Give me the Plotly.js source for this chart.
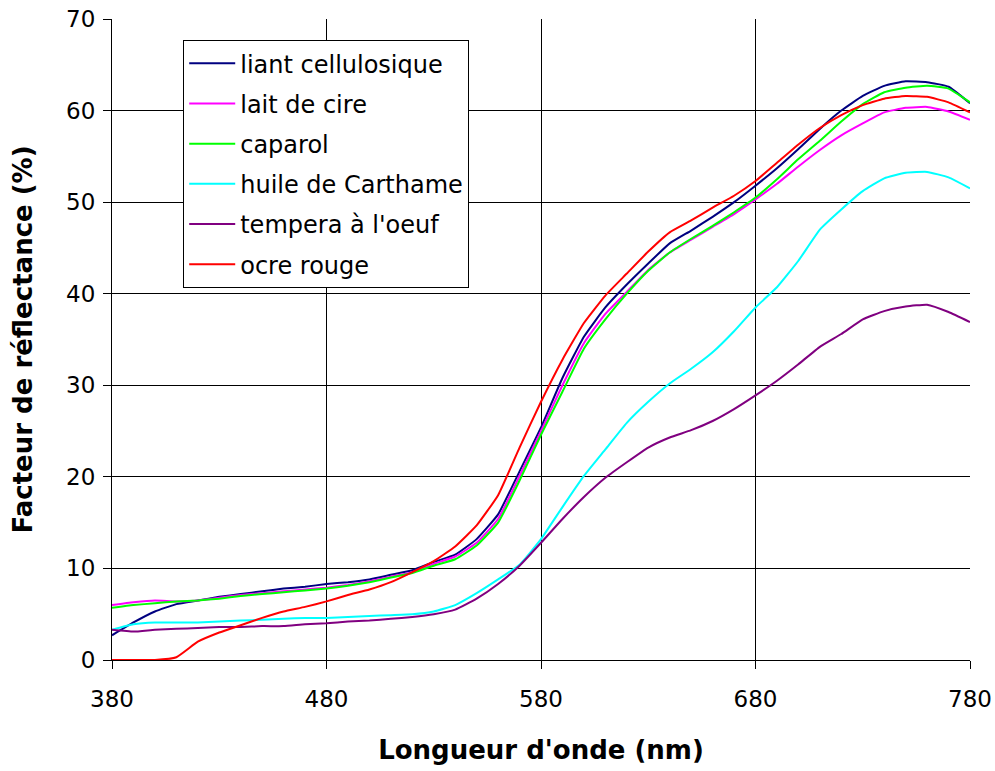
<!DOCTYPE html>
<html>
<head>
<meta charset="utf-8">
<script src="https://cdn.plot.ly/plotly-3.0.1.min.js"></script>
<style>html,body{margin:0;padding:0;background:#fff;}#chart{width:995px;height:771px;}</style>
</head>
<body>
<div id="chart"></div>
<script>
const wavelengths = [380,390,400,410,420,430,440,450,460,470,480,490,500,510,520,530,540,550,560,570,580,590,600,610,620,630,640,650,660,670,680,690,700,710,720,730,740,750,760,770,780];

const liantCellulosique = [2.7,4.1,5.3,6.1,6.5,6.9,7.2,7.5,7.8,8.0,8.3,8.5,8.8,9.3,9.8,10.7,11.5,13.2,15.9,20.6,25.4,30.8,35.3,38.5,41.0,43.3,45.5,46.9,48.4,50.0,51.8,53.7,55.8,58.0,60.0,61.6,62.7,63.2,63.1,62.6,60.8];
const laitDeCire = [6.0,6.3,6.5,6.4,6.5,6.8,7.1,7.3,7.5,7.7,7.9,8.2,8.6,9.1,9.6,10.5,11.3,12.8,15.4,20.1,25.0,30.0,34.6,37.8,40.2,42.6,44.5,45.9,47.3,48.7,50.3,52.0,53.9,55.7,57.3,58.6,59.8,60.3,60.4,59.9,59.0];
const caparol = [5.7,6.0,6.2,6.4,6.5,6.7,7.0,7.2,7.4,7.6,7.8,8.1,8.5,9.0,9.5,10.3,11.0,12.5,15.0,19.6,24.6,29.3,34.0,37.2,40.0,42.5,44.5,46.0,47.4,48.9,50.5,52.5,54.7,56.7,58.8,60.7,62.0,62.5,62.7,62.4,60.9];
const huileCarthame = [3.3,3.9,4.1,4.1,4.1,4.2,4.3,4.4,4.5,4.6,4.6,4.7,4.8,4.9,5.0,5.3,6.0,7.3,8.8,10.4,13.2,16.7,20.1,23.0,25.9,28.2,30.2,31.8,33.6,35.9,38.5,40.7,43.6,47.0,49.2,51.2,52.6,53.2,53.3,52.7,51.5];
const temperaOeuf = [3.3,3.1,3.3,3.4,3.5,3.6,3.6,3.7,3.7,3.9,4.0,4.2,4.3,4.5,4.7,5.0,5.5,6.7,8.3,10.3,12.8,15.4,17.8,19.9,21.6,23.2,24.3,25.1,26.1,27.4,28.9,30.5,32.3,34.2,35.6,37.2,38.1,38.6,38.8,38.0,36.9];
const ocreRouge = [0,0,0,0.3,2.0,3.0,3.8,4.6,5.3,5.8,6.4,7.1,7.7,8.5,9.6,10.8,12.4,14.7,18.0,23.2,28.2,32.8,36.8,39.8,42.2,44.6,46.7,48.0,49.4,50.7,52.3,54.3,56.3,58.1,59.5,60.6,61.3,61.6,61.5,60.9,59.8];

const seriesNames = ["liant cellulosique","lait de cire","caparol","huile de Carthame","tempera à l'oeuf","ocre rouge"];
const seriesValues = [liantCellulosique, laitDeCire, caparol, huileCarthame, temperaOeuf, ocreRouge];
const seriesColors = ["#000080","#FF00FF","#00FF00","#00FFFF","#800080","#FF0000"];

const xTicks = [380,480,580,680,780];
const yTicks = [0,10,20,30,40,50,60,70];

const traces = seriesNames.map((name, i) => ({
  x: wavelengths,
  y: seriesValues[i],
  name: name,
  legendgroup: 'g' + i,
  type: 'scatter',
  mode: 'lines',
  line: {color: seriesColors[i], width: 2, shape: 'spline', smoothing: 0.4}
}));

const font = "DejaVu Sans, Arial, sans-serif";
const layout = {
  width: 995, height: 771,
  paper_bgcolor: '#ffffff', plot_bgcolor: '#ffffff',
  margin: {l: 112, r: 25, t: 19, b: 111},
  font: {family: font, color: '#000000', size: 23},
  showlegend: true,
  legend: {
    x: 0.083, y: 0.967, xanchor: 'left', yanchor: 'top',
    bgcolor: '#ffffff', bordercolor: '#000000', borderwidth: 1,
    font: {family: font, size: 24, color: '#000000'},
    tracegroupgap: 6,
    itemwidth: 46
  },
  xaxis: {
    range: [380, 780], tickvals: xTicks, ticktext: xTicks.map(String),
    showgrid: true, gridcolor: '#000000', gridwidth: 1,
    showline: true, linecolor: '#000000', linewidth: 1,
    ticks: 'outside', ticklen: 8, tickcolor: '#000000',
    ticklabelstandoff: 10,
    zeroline: false, tickfont: {size: 23},
    title: {text: "Longueur d'onde (nm)", font: {size: 26, family: font, weight: 'bold'}, standoff: 30}
  },
  yaxis: {
    range: [0, 70], tickvals: yTicks, ticktext: yTicks.map(String),
    showgrid: true, gridcolor: '#000000', gridwidth: 1,
    showline: true, linecolor: '#000000', linewidth: 1,
    ticks: 'outside', ticklen: 8, tickcolor: '#000000',
    ticklabelstandoff: 3,
    zeroline: false, tickfont: {size: 23},
    title: {text: "Facteur de réflectance (%)", font: {size: 26, family: font, weight: 'bold'}, standoff: 26}
  }
};

Plotly.newPlot('chart', traces, layout, {displayModeBar: false, staticPlot: true});
</script>
</body>
</html>
